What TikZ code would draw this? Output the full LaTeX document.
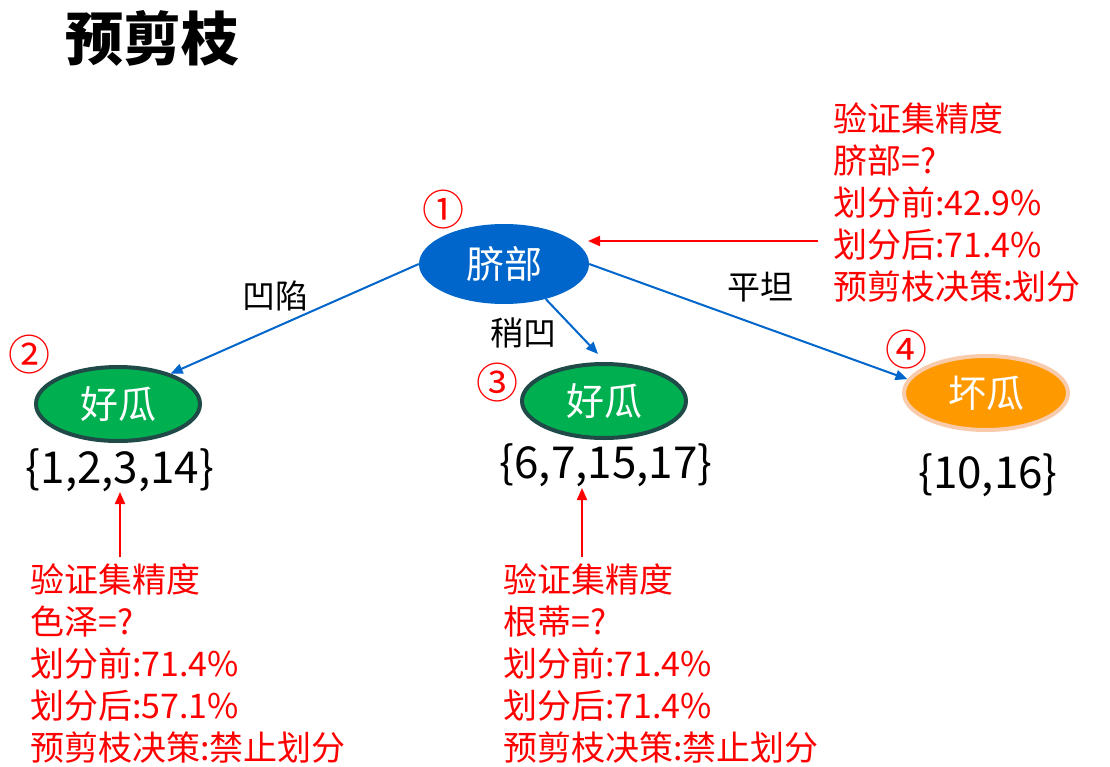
\documentclass[tikz,border=0pt]{standalone}
\usepackage{fontspec}
\setmainfont{Noto Sans CJK SC}
\usepackage{xcolor}
\usetikzlibrary{shapes.geometric,arrows.meta,positioning}
\definecolor{rootblue}{HTML}{0066CC}
\definecolor{goodgreen}{HTML}{00B050}
\definecolor{gooddark}{HTML}{1F4A48}
\definecolor{badorange}{HTML}{FF9900}
\definecolor{badrim}{HTML}{F8CBAD}
\tikzset{
  treeedge/.style = {rootblue, line width=2pt, ->, >={Triangle[length=12pt,width=10pt]}},
  noteedge/.style = {red, line width=2pt, ->, >={Triangle[length=12pt,width=10pt]}},
  rootnode/.style = {ellipse, fill=rootblue, text=white, minimum width=170pt, minimum height=80pt, inner sep=0pt, font=\fontsize{38}{40}\selectfont},
  goodnode/.style = {ellipse, fill=goodgreen, draw=gooddark, line width=4pt, text=white, minimum width=164pt, minimum height=74pt, inner sep=0pt, font=\fontsize{38}{40}\selectfont},
  badnode/.style = {ellipse, fill=badorange, draw=badrim, line width=4pt, text=white, minimum width=164pt, minimum height=74pt, inner sep=0pt, font=\fontsize{38}{40}\selectfont},
  setlabel/.style = {inner sep=0pt, font=\fontsize{44}{48}\selectfont},
  edgelabel/.style = {inner sep=0pt, font=\fontsize{33}{34}\selectfont},
  stepnum/.style = {red, inner sep=0pt, font=\fontsize{42}{44}\selectfont},
  notetext/.style = {red, align=left, anchor=north west, inner sep=0pt, font=\fontsize{34}{42}\selectfont},
}

\begin{document}
\begin{tikzpicture}[x=1pt,y=-1pt]
    \useasboundingbox (0,0) rectangle (1110,767);

    \node[inner sep=0pt, font=\fontsize{58}{60}\selectfont\bfseries] (title) at (152,38) {预剪枝};

    % tree
    \node[rootnode] (root) at (504,264) {脐部};
    \node[goodnode] (good1) at (118,404) {好瓜};
    \node[goodnode] (good2) at (604,401) {好瓜};
    \node[badnode] (bad) at (986,393) {坏瓜};

    \node[stepnum] (s1) at (443,210) {①};
    \node[stepnum] (s2) at (30,355) {②};
    \node[stepnum] (s3) at (497,383) {③};
    \node[stepnum] (s4) at (906,350) {④};

    \node[setlabel] (set1) at (120,470) {\{1,2,3,14\}};
    \node[setlabel] (set2) at (606,465) {\{6,7,15,17\}};
    \node[setlabel] (set3) at (988,475) {\{10,16\}};

    \path (root.west) edge[treeedge] (good1.30);
    \path (root.-40) edge[treeedge] ([xshift=-6pt,yshift=8pt]good2.north);
    \path (root.east) edge[treeedge] (bad.170);

    \node[edgelabel] (l1) at (275,296) {凹陷};
    \node[edgelabel] (l2) at (523,333) {稍凹};
    \node[edgelabel] (l3) at (760,287) {平坦};

    % validation notes
    \node[notetext] (note1) at (833,103) {验证集精度\\脐部=?\\划分前:42.9\%\\划分后:71.4\%\\预剪枝决策:划分};
    \node[notetext] (note2) at (30,563) {验证集精度\\色泽=?\\划分前:71.4\%\\划分后:57.1\%\\预剪枝决策:禁止划分};
    \node[notetext] (note3) at (503,563) {验证集精度\\根蒂=?\\划分前:71.4\%\\划分后:71.4\%\\预剪枝决策:禁止划分};

    \coordinate (n1tip) at (588,241);
    \coordinate (n2tip) at (120,492);
    \coordinate (n3tip) at (582,488);
    \draw[noteedge] ([xshift=-15pt]note1.west |- n1tip) -- (n1tip);
    \draw[noteedge] (n2tip |- note2.north) ++(0,-6) -- (n2tip);
    \draw[noteedge] (n3tip |- note3.north) ++(0,-6) -- (n3tip);
\end{tikzpicture}
\end{document}
